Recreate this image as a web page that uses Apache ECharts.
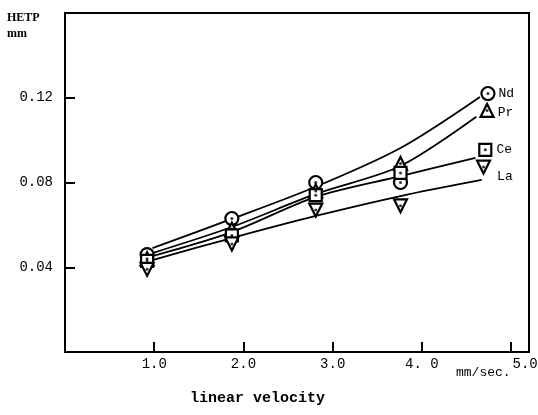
<!DOCTYPE html>
<html>
<head>
<meta charset="utf-8">
<script src="https://cdn.jsdelivr.net/npm/echarts@6/dist/echarts.min.js"></script>
<style>html,body{margin:0;padding:0;background:#fff;}#c{width:538px;height:415px;}</style>
</head>
<body>
<div id="c"></div>
<script>
// tick labels
const xTickLabels = ['1.0', '2.0', '3.0', '4. 0', '5.0'];
const yTickLabels = ['0.04', '0.08', '0.12'];
const seriesNames = ['Nd', 'Pr', 'Ce', 'La'];

// measured points [linear velocity, HETP]
const ndPoints = [[0.92, 0.046], [1.87, 0.063], [2.81, 0.080], [3.76, 0.080], [4.74, 0.122]];
const prPoints = [[0.92, 0.044], [1.87, 0.058], [2.81, 0.076], [3.76, 0.089], [4.73, 0.114]];
const cePoints = [[0.92, 0.043], [1.87, 0.055], [2.81, 0.074], [3.76, 0.0845], [4.71, 0.0954]];
const laPoints = [[0.92, 0.039], [1.87, 0.051], [2.81, 0.067], [3.76, 0.069], [4.69, 0.0873]];

// fitted curves
const ndCurve = [[0.98, 0.0490], [1.87, 0.0628], [2.81, 0.0780], [3.76, 0.0963], [4.65, 0.1204]];
const prCurve = [[0.98, 0.0467], [1.87, 0.0590], [2.81, 0.0746], [3.76, 0.0878], [4.61, 0.1110]];
const ceCurve = [[0.98, 0.0453], [1.87, 0.0566], [2.81, 0.0732], [3.76, 0.0830], [4.60, 0.0916]];
const laCurve = [[0.98, 0.0434], [1.87, 0.0538], [2.81, 0.0642], [3.76, 0.0736], [4.67, 0.0812]];

const pointSets = [ndPoints, prPoints, cePoints, laPoints];
const curveSets = [ndCurve, prCurve, ceCurve, laCurve];
const symbols = ['circle', 'triangle', 'rect', 'triangle'];
const rotations = [0, 0, 0, 180];
const sizes = [13, 13, 12, 13];
const labelOffsets = [[0, 0], [0, 2], [1, 0], [3, 10]];

const FONT = 'Liberation Mono';
const series = [];
curveSets.forEach((c, i) => {
  series.push({
    type: 'line', name: seriesNames[i] + ' fit', data: c, smooth: 0.3,
    showSymbol: false, symbol: 'none', silent: true,
    lineStyle: { color: '#000', width: 1.8 }, z: 2
  });
});
pointSets.forEach((pts, i) => {
  const last = pts.length - 1;
  series.push({
    type: 'scatter', name: seriesNames[i],
    symbol: symbols[i], symbolRotate: rotations[i], symbolSize: sizes[i],
    itemStyle: { color: '#fff', borderColor: '#000', borderWidth: 2.2, opacity: 1 },
    data: pts.map((p, j) => j === last ? {
      value: p,
      label: {
        show: true, position: 'right', distance: 3, offset: labelOffsets[i],
        formatter: seriesNames[i], color: '#000', fontFamily: FONT, fontSize: 13
      }
    } : p),
    z: 3
  });
  series.push({
    type: 'scatter', name: seriesNames[i] + ' dot', symbol: 'circle', symbolSize: 3,
    itemStyle: { color: '#000' }, data: pts, z: 4, silent: true
  });
});

const chart = echarts.init(document.getElementById('c'), null, { renderer: 'canvas' });
chart.setOption({
  animation: false,
  backgroundColor: '#fff',
  grid: { left: 65, right: 9, top: 13, bottom: 63, containLabel: false, outerBoundsMode: 'none',
          show: true, borderColor: '#000', borderWidth: 2 },
  xAxis: {
    type: 'value', min: 0, max: 5.2, interval: 1,
    axisLine: { show: true, lineStyle: { color: '#000', width: 2 } },
    axisTick: { show: true, inside: true, length: 10, lineStyle: { color: '#000', width: 2 } },
    splitLine: { show: false },
    axisLabel: {
      margin: 5, color: '#000', fontFamily: FONT, fontSize: 14,
      showMinLabel: true, showMaxLabel: true,
      rich: { last: { fontFamily: FONT, fontSize: 14, color: '#000', padding: [0, 0, 8, 28] } },
      formatter: v => {
        const k = Math.round(v);
        if (!(Math.abs(v - k) < 1e-6 && k >= 1 && k <= xTickLabels.length)) return '';
        return k === xTickLabels.length ? '{last|' + xTickLabels[k - 1] + '}' : xTickLabels[k - 1];
      }
    }
  },
  yAxis: {
    type: 'value', min: 0, max: 0.16, interval: 0.04,
    axisLine: { show: true, lineStyle: { color: '#000', width: 2 } },
    axisTick: { show: true, inside: true, length: 10, lineStyle: { color: '#000', width: 2 } },
    splitLine: { show: false },
    axisLabel: {
      margin: 12, color: '#000', fontFamily: FONT, fontSize: 14,
      formatter: v => {
        const k = Math.round(v / 0.04);
        return (Math.abs(v - k * 0.04) < 1e-6 && k >= 1 && k <= yTickLabels.length) ? yTickLabels[k - 1] : '';
      }
    }
  },
  graphic: [
    { type: 'text', left: 7, top: 12, style: { text: 'HETP', font: 'bold 12px "Liberation Serif"', fill: '#000' } },
    { type: 'text', left: 7, top: 28, style: { text: 'mm', font: 'bold 12px "Liberation Serif"', fill: '#000' } },
    { type: 'text', left: 456, top: 366, style: { text: 'mm/sec.', font: '13px "Liberation Mono"', fill: '#000' } },
    { type: 'text', left: 190, top: 391, style: { text: 'linear velocity', font: 'bold 15px "Liberation Mono"', fill: '#000' } }
  ],
  series: series
});
</script>
</body>
</html>
